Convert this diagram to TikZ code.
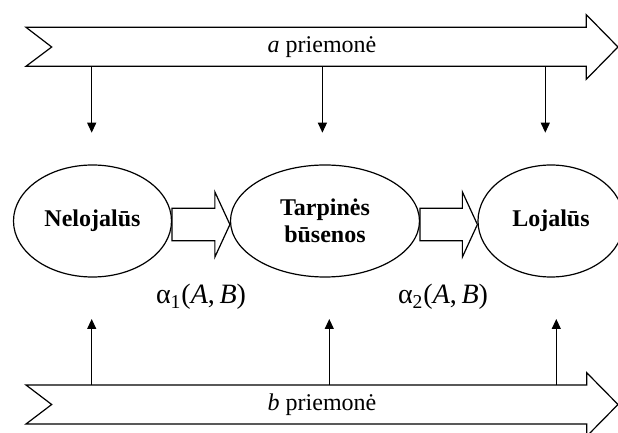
\documentclass[tikz,border=0pt]{standalone}
\usepackage{fontspec}
\setmainfont{Liberation Serif}
\usetikzlibrary{arrows.meta,calc,positioning,shapes}
\tikzstyle{state}=[
  draw=black,
  ellipse,
  inner sep=0pt,
  minimum height=56pt,
  align=center,
  font={\fontsize{12}{13.3}\selectfont\bfseries},
  line width=.6pt,
]
\tikzstyle{band}=[
  draw=black,
  fill=white,
  line width=.6pt,
  line join=miter,
]
\tikzstyle{block}=[
  draw=black,
  fill=white,
  line width=.6pt,
]
\tikzstyle{arrow}=[
  ->,
  draw=black,
  line width=.6pt,
]
\tikzstyle{bandlabel}=[
  font={\fontsize{12}{13.3}\selectfont},
  inner sep=0pt,
]
\tikzstyle{rate}=[
  font={\fontsize{14}{15}\selectfont},
  inner sep=0pt,
]
\tikzset{
  x=.5pt,
  y=-.5pt,
  >={Triangle[length=5pt,width=4.5pt]},
}

\begin{document}
\begin{tikzpicture}
    \useasboundingbox (0,0) rectangle (618,433);
    \draw [band] (26,27.3) -- (586.3,27.3) -- (586.3,14.7) -- (618,47) -- (586.3,79.3)
      -- (586.3,66.3) -- (26,66.3) -- (51.7,47) -- cycle;
    \node (a) [bandlabel] at (322,47) {\textit{a} priemonė};
    \draw [band] (26,385) -- (586.7,385) -- (586.7,372.7) -- (618,404.5) -- (586.7,436.3)
      -- (586.7,424) -- (26,424) -- (51.7,404.5) -- cycle;
    \node (b) [bandlabel] at (322,404.5) {\textit{b} priemonė};
    \node (nel) [state, minimum width=79pt] at (92.5,221) {Nelojalūs};
    \node (tarp) [state, minimum width=94.5pt] at (325,221) {Tarpinės\\būsenos};
    \node (loj) [state, minimum width=73pt] at (551,221) {Lojalūs};
    \draw [block] ($(nel.east)+(0,-12.7)$) -- ($(tarp.west)+(-15,-12.7)$) -- ($(tarp.west)+(-15,-29)$)
      -- ($(tarp.west)+(0,3.5)$) -- ($(tarp.west)+(-15,36)$) -- ($(tarp.west)+(-15,19.7)$)
      -- ($(nel.east)+(0,19.7)$) -- cycle;
    \draw [block] ($(tarp.east)+(0,-12.7)$) -- ($(loj.west)+(-15,-12.7)$) -- ($(loj.west)+(-15,-29)$)
      -- ($(loj.west)+(0,3.5)$) -- ($(loj.west)+(-15,36)$) -- ($(loj.west)+(-15,19.7)$)
      -- ($(tarp.east)+(0,19.7)$) -- cycle;
    \node (rate1) [rate] at (201,297) {α\textsubscript{1}(\textit{A},\,\textit{B})};
    \node (rate2) [rate] at (443,297) {α\textsubscript{2}(\textit{A},\,\textit{B})};
    \foreach \x [count=\i] in {91.7,322.4,545.3} {
      \coordinate (atop\i) at (\x,66.3);
      \coordinate (adown\i) at (\x,132.7);
      \draw [arrow] (atop\i) -- (adown\i);
    }
    \foreach \x [count=\i] in {91.7,329.3,556.3} {
      \coordinate (bbot\i) at (\x,385);
      \coordinate (bup\i) at (\x,319);
      \draw [arrow] (bbot\i) -- (bup\i);
    }
  \end{tikzpicture}
\end{document}
